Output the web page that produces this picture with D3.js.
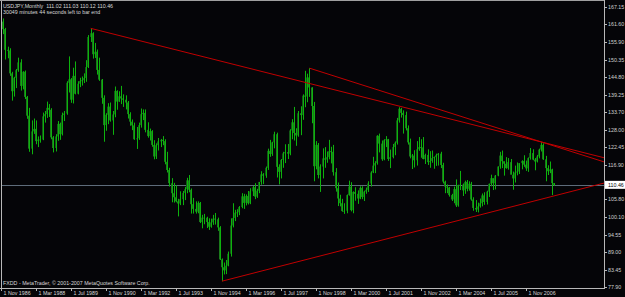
<!DOCTYPE html>
<html>
<head>
<meta charset="utf-8">
<script src="https://cdn.jsdelivr.net/npm/d3@7"></script>
<style>
  body { margin: 0; background: #000; }
  svg { display: block; }
  text { font-family: "Liberation Sans", Arial, sans-serif; }
</style>
</head>
<body>
<svg></svg>
<script>
// USDJPY monthly bars, Nov 1986 .. Dec 2007 (last bar is the running one)
const titleText = "USDJPY,Monthly  111.02 111.03 110.12 110.46";
const timerText = "30049 minutes 44 seconds left to bar end";
const copyText = "FXDD - MetaTrader, \u00a9 2001-2007 MetaQuotes Software Corp.";

const firstOpen = 161.8;
const highs = [
  165.0, 163.5,
  160.5, 154.5, 154.0, 146.5, 144.9, 147.4, 151.0, 150.5, 146.7, 146.9, 138.8, 135.0,
  131.0, 131.6, 131.0, 125.9, 126.2, 133.5, 134.0, 137.0, 136.2, 134.9, 126.0, 126.6,
  130.8, 130.3, 133.5, 134.0, 143.5, 151.4, 144.5, 147.8, 149.8, 143.5, 144.6, 145.0,
  146.0, 150.2, 158.2, 160.35, 159.1, 155.7, 153.6, 151.0, 144.2, 139.0, 133.3, 136.5,
  136.7, 134.0, 141.8, 140.6, 140.3, 142.0, 139.3, 139.0, 137.2, 133.6, 131.3, 130.3,
  128.9, 130.3, 134.8, 134.5, 134.5, 130.4, 128.4, 127.9, 124.7, 123.7, 125.4, 125.1,
  126.0, 125.0, 121.0, 115.9, 112.6, 111.1, 110.3, 106.0, 108.4, 108.5, 109.8, 112.7,
  113.6, 109.3, 106.3, 105.2, 105.2, 105.0, 100.9, 101.2, 100.3, 99.8, 99.7, 100.9,
  101.5, 100.0, 97.3, 87.0, 85.7, 86.5, 89.2, 99.8, 104.6, 102.5, 102.7, 103.7,
  107.8, 107.6, 107.4, 108.5, 109.4, 110.1, 111.0, 109.2, 111.4, 114.8, 114.2, 116.3,
  122.0, 124.8, 124.2, 127.4, 127.1, 117.0, 118.7, 121.0, 123.4, 123.5, 128.2, 131.4,
  135.3, 128.5, 134.0, 135.5, 139.3, 146.8, 145.9, 147.66, 141.6, 136.9, 124.4, 123.8,
  117.0, 122.1, 122.5, 121.1, 124.8, 122.6, 123.2, 115.8, 111.2, 107.3, 106.0, 104.6,
  107.4, 111.8, 111.3, 108.4, 109.7, 108.7, 110.0, 110.0, 108.6, 109.6, 111.6, 114.8,
  119.4, 118.0, 126.3, 126.8, 124.6, 125.0, 126.0, 125.1, 121.7, 123.5, 124.3, 131.8,
  135.2, 135.0, 134.2, 133.8, 129.4, 125.2, 120.3, 121.5, 124.4, 125.7, 125.0, 125.7,
  120.4, 121.8, 121.2, 121.4, 119.5, 120.4, 120.6, 121.0, 117.5, 111.8, 110.6, 109.8,
  107.6, 109.9, 112.2, 110.5, 114.9, 110.9, 111.8, 112.0, 111.6, 111.4, 106.5, 105.6,
  104.8, 106.1, 107.7, 108.1, 108.6, 110.9, 113.7, 112.6, 113.6, 116.4, 121.0, 121.4,
  118.0, 119.3, 119.0, 118.7, 114.7, 116.6, 117.6, 117.4, 118.3, 119.9, 118.2, 119.2,
  122.2, 121.8, 119.0, 120.0, 122.0, 124.14, 123.7, 119.7, 116.7, 117.9, 115.6, 111.03
];
const lows = [
  159.6, 158.5,
  150.4, 150.8, 145.2, 137.3, 138.6, 141.3, 146.5, 140.5, 140.9, 137.8, 131.5, 121.0,
  120.2, 126.7, 123.4, 122.5, 123.9, 124.7, 130.3, 131.8, 132.1, 125.0, 120.8, 121.1,
  124.5, 124.8, 126.2, 130.8, 132.8, 139.9, 136.6, 136.4, 139.3, 139.3, 141.6, 142.1,
  142.9, 143.3, 147.7, 156.0, 150.7, 150.9, 145.6, 143.6, 136.3, 124.2, 127.7, 129.8,
  130.6, 126.4, 132.0, 134.4, 136.9, 136.2, 135.3, 134.5, 131.6, 129.3, 127.9, 124.8,
  121.9, 124.8, 128.7, 131.1, 127.2, 125.5, 124.6, 122.6, 118.6, 118.7, 121.4, 122.5,
  123.1, 117.0, 114.4, 109.9, 104.9, 104.8, 104.9, 100.4, 104.0, 104.0, 105.6, 107.8,
  108.1, 101.3, 101.3, 101.3, 101.4, 98.3, 96.6, 97.9, 96.7, 96.1, 96.8, 97.7,
  97.8, 95.8, 86.5, 79.75, 81.9, 82.0, 84.5, 87.6, 96.9, 98.9, 100.2, 100.8,
  103.0, 102.8, 103.9, 104.2, 104.3, 106.9, 105.9, 106.3, 107.8, 110.5, 110.7, 112.7,
  115.2, 119.4, 119.7, 122.1, 112.8, 110.6, 112.5, 115.9, 117.4, 118.7, 119.9, 125.0,
  124.6, 122.9, 125.8, 126.3, 131.2, 135.2, 136.8, 138.5, 130.1, 111.6, 115.4, 112.5,
  108.2, 112.5, 115.9, 117.5, 118.6, 117.3, 113.4, 108.3, 103.7, 103.6, 101.9, 101.2,
  101.4, 107.0, 102.0, 101.4, 105.4, 104.4, 105.9, 105.9, 105.3, 107.6, 108.2, 109.9,
  114.2, 114.2, 116.9, 120.8, 118.1, 118.3, 122.5, 118.1, 115.8, 118.9, 119.9, 123.3,
  130.3, 131.9, 126.8, 127.8, 123.3, 118.9, 115.5, 116.0, 116.6, 121.3, 119.1, 118.6,
  117.1, 116.8, 115.9, 117.5, 115.6, 116.5, 116.6, 115.8, 110.9, 107.8, 107.8, 106.7,
  105.3, 104.6, 103.4, 103.5, 108.8, 106.9, 107.6, 108.4, 108.6, 105.4, 102.2, 101.8,
  101.68, 103.2, 103.6, 104.1, 104.2, 106.6, 110.0, 108.8, 109.0, 113.2, 115.6, 115.8,
  113.4, 115.6, 115.3, 113.7, 108.9, 111.2, 113.5, 113.9, 115.4, 116.2, 114.9, 114.6,
  118.5, 118.3, 115.1, 117.6, 118.9, 121.1, 118.4, 111.6, 113.6, 114.2, 107.2, 110.12
];
const closes = [
  162.5, 160.1,
  153.5, 153.3, 146.0, 140.3, 144.6, 147.0, 149.5, 142.0, 146.5, 138.5, 132.5, 122.0,
  127.5, 128.3, 124.4, 124.9, 124.9, 132.3, 133.0, 135.0, 134.4, 125.6, 122.2, 125.9,
  129.9, 126.6, 132.7, 133.2, 143.0, 144.1, 137.6, 145.2, 139.5, 142.7, 143.6, 143.8,
  144.5, 148.0, 157.6, 158.8, 152.1, 152.9, 147.1, 144.0, 138.2, 129.5, 132.8, 135.4,
  131.0, 132.9, 140.4, 137.0, 138.7, 138.0, 137.6, 136.7, 133.0, 130.6, 129.4, 125.0,
  125.3, 129.5, 133.0, 133.4, 128.0, 126.0, 127.6, 123.2, 119.5, 123.1, 124.3, 124.8,
  124.4, 117.8, 115.2, 111.0, 107.8, 106.5, 105.2, 104.5, 105.9, 107.9, 109.1, 111.9,
  108.9, 104.3, 102.8, 101.9, 104.7, 98.6, 100.0, 100.0, 98.6, 97.1, 98.5, 99.7,
  99.5, 96.9, 86.7, 84.2, 83.2, 84.7, 88.5, 97.5, 99.9, 101.6, 101.7, 103.4,
  106.8, 104.7, 106.9, 104.6, 108.4, 109.7, 106.7, 108.6, 111.4, 113.8, 113.4, 115.9,
  121.3, 120.3, 124.0, 126.6, 116.2, 114.6, 118.4, 120.5, 120.9, 120.4, 127.8, 130.4,
  127.0, 126.2, 133.3, 132.7, 138.9, 138.6, 144.7, 141.5, 135.6, 116.4, 123.2, 113.6,
  116.3, 118.9, 118.5, 119.3, 121.2, 121.0, 114.5, 109.4, 106.1, 104.6, 102.1, 102.2,
  107.2, 109.9, 102.4, 108.2, 107.6, 106.1, 109.5, 106.6, 108.3, 108.9, 110.9, 114.4,
  116.6, 117.4, 126.1, 123.6, 118.6, 124.7, 125.0, 118.7, 119.3, 122.5, 123.9, 131.0,
  134.7, 133.4, 132.7, 128.5, 124.0, 119.5, 119.8, 118.3, 121.8, 122.5, 122.4, 118.7,
  120.0, 117.7, 118.1, 119.0, 119.3, 119.9, 120.4, 116.8, 111.5, 109.9, 109.6, 107.2,
  105.8, 109.1, 103.9, 110.3, 110.5, 108.7, 111.4, 109.2, 110.8, 105.8, 103.1, 102.6,
  103.6, 104.6, 107.1, 105.0, 108.3, 110.8, 112.6, 111.0, 113.4, 116.3, 119.8, 118.0,
  117.2, 115.8, 117.7, 113.7, 112.5, 114.4, 114.7, 117.4, 118.1, 116.9, 115.7, 119.0,
  120.6, 118.5, 117.9, 119.5, 121.7, 123.2, 118.6, 115.8, 114.8, 115.4, 111.02, 110.46
];
const bid = 110.46;

const priceTicks = ["167.15", "161.60", "155.90", "150.35", "144.80", "139.25", "133.70", "128.00",
  "122.45", "116.90", "111.35", "105.80", "100.10", "94.55", "89.00", "83.45", "77.90"];
const dateTicks = ["1 Nov 1986", "1 Mar 1988", "1 Jul 1989", "1 Nov 1990", "1 Mar 1992", "1 Jul 1993",
  "1 Nov 1994", "1 Mar 1996", "1 Jul 1997", "1 Nov 1998", "1 Mar 2000", "1 Jul 2001",
  "1 Nov 2002", "1 Mar 2004", "1 Jul 2005", "1 Nov 2006"];
const barsPerLabel = 16;

// trend lines: [bar index, price] anchors, extended to the right edge
const trendLines = [
  { a: [41, 160.35], b: [247, 124.14] },
  { a: [141, 147.66], b: [247, 124.14] },
  { a: [101, 79.75], b: [218, 100.7] }
];

const w = 625, h = 297;
const plot = { left: 1, right: 604, top: 1, bottom: 288 };

const svg = d3.select("svg").attr("width", w).attr("height", h);
svg.append("rect").attr("width", w).attr("height", h).attr("fill", "#050508");

const bars = closes.map(function(c, i) {
  return { i: i, o: i ? closes[i - 1] : firstOpen, h: highs[i], l: lows[i], c: c };
});

const xScale = d3.scaleLinear()
  .domain([0, 275.66])
  .range([plot.left, plot.right]);
const yScale = d3.scaleLinear()
  .domain([+priceTicks[priceTicks.length - 1], +priceTicks[0]])
  .range([287, 7]);

svg.append("clipPath").attr("id", "clip")
  .append("rect")
  .attr("x", plot.left).attr("y", plot.top)
  .attr("width", plot.right - plot.left).attr("height", plot.bottom - plot.top);

const g = svg.append("g").attr("clip-path", "url(#clip)");

// bid line
g.append("line")
  .attr("x1", plot.left).attr("x2", plot.right)
  .attr("y1", Math.round(yScale(bid)) + 0.5).attr("y2", Math.round(yScale(bid)) + 0.5)
  .attr("stroke", "#5e6c7a").attr("stroke-width", 1);

// candle bodies
g.selectAll("rect.body")
  .data(bars)
  .enter().append("rect")
  .attr("class", "body")
  .attr("x", d => Math.round(xScale(d.i)) - 1)
  .attr("width", 1)
  .attr("y", d => yScale(Math.max(d.o, d.c)))
  .attr("height", d => Math.max(1, Math.abs(yScale(d.o) - yScale(d.c))))
  .attr("fill", d => d.c >= d.o ? "#135a16" : "#1c7a1c");

// wicks
g.selectAll("line.wick")
  .data(bars)
  .enter().append("line")
  .attr("class", "wick")
  .attr("x1", d => Math.round(xScale(d.i)) + 0.5)
  .attr("x2", d => Math.round(xScale(d.i)) + 0.5)
  .attr("y1", d => yScale(d.h))
  .attr("y2", d => yScale(d.l))
  .attr("stroke", "#0db20d")
  .attr("stroke-width", 1);

// trend lines
const xEnd = xScale.domain()[1];
g.selectAll("line.trend")
  .data(trendLines)
  .enter().append("line")
  .attr("class", "trend")
  .attr("x1", d => xScale(d.a[0]))
  .attr("y1", d => yScale(d.a[1]))
  .attr("x2", xScale(xEnd))
  .attr("y2", function(d) {
    let slope = (d.b[1] - d.a[1]) / (d.b[0] - d.a[0]);
    return yScale(d.a[1] + slope * (xEnd - d.a[0]));
  })
  .attr("stroke", "#c00000")
  .attr("stroke-width", 1);

// frame
svg.append("line").attr("x1", 1.5).attr("x2", 1.5).attr("y1", 0).attr("y2", plot.bottom)
  .attr("stroke", "#b8b8b8");
svg.append("line").attr("x1", 0).attr("x2", plot.right).attr("y1", 0.5).attr("y2", 0.5)
  .attr("stroke", "#a0a0a0");
svg.append("line").attr("x1", plot.right + 0.5).attr("x2", plot.right + 0.5)
  .attr("y1", 0).attr("y2", plot.bottom + 1).attr("stroke", "#b8b8b8");
svg.append("line").attr("x1", 0).attr("x2", plot.right + 1)
  .attr("y1", plot.bottom + 0.5).attr("y2", plot.bottom + 0.5).attr("stroke", "#b8b8b8");

// price axis (the label hidden under the bid box is skipped)
const by = yScale(bid);
const yAx = svg.append("g");
priceTicks.forEach(function(t) {
  let y = Math.round(yScale(+t)) + 0.5;
  yAx.append("line").attr("x1", plot.right + 1).attr("x2", plot.right + 3)
    .attr("y1", y).attr("y2", y).attr("stroke", "#b8b8b8");
  if (Math.abs(y - by) < 8) return;
  yAx.append("text").text(t)
    .attr("x", plot.right + 4).attr("y", y).attr("dy", "0.35em")
    .attr("font-size", 5.3).attr("fill", "#d0d0d0");
});

// bid label box
svg.append("rect").attr("x", plot.right + 1).attr("y", by - 4).attr("width", 20).attr("height", 8)
  .attr("fill", "#ffffff");
svg.append("text").text(bid.toFixed(2))
  .attr("x", plot.right + 4).attr("y", by).attr("dy", "0.35em")
  .attr("font-size", 5.3).attr("fill", "#000");

// time axis
dateTicks.forEach(function(t, k) {
  let x = Math.round(xScale(k * barsPerLabel)) + 0.5;
  svg.append("line").attr("x1", x).attr("x2", x)
    .attr("y1", plot.bottom).attr("y2", plot.bottom + 3).attr("stroke", "#b8b8b8");
  svg.append("text").text(t)
    .attr("x", x + 2).attr("y", 295)
    .attr("font-size", 5.3).attr("fill", "#d8d8d8");
});

// header and footer texts
svg.append("text").text(titleText).attr("x", 3).attr("y", 7.5)
  .attr("font-size", 5.3).attr("fill", "#d8d8d8").style("white-space", "pre");
svg.append("text").text(timerText).attr("x", 3).attr("y", 14)
  .attr("font-size", 5.3).attr("fill", "#d8d8d8");
svg.append("text").text(copyText).attr("x", 3).attr("y", 285)
  .attr("font-size", 5.3).attr("fill", "#d8d8d8");
</script>
</body>
</html>
